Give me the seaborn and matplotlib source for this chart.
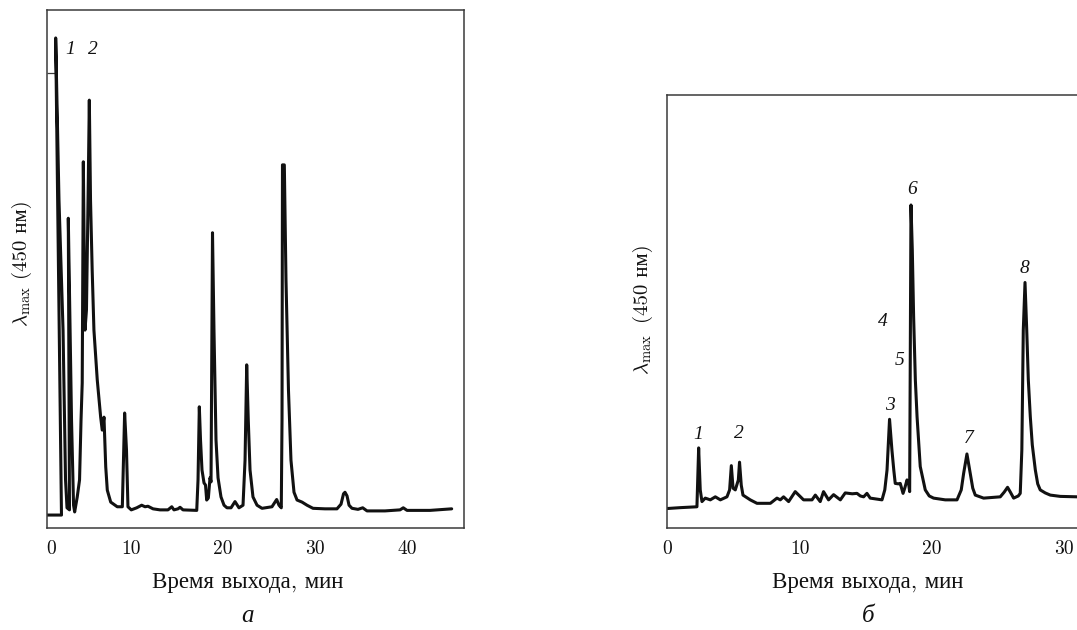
import matplotlib
matplotlib.use("Agg")
import matplotlib.pyplot as plt
import seaborn as sns
import pandas as pd
import numpy as np

# ---- data: panel a (retention time, min; detector signal, arb. units) ----
# the recorder pen leans, so a few early peak tops sit slightly left of their bases
time_a = [0.90, 2.47, 1.84, 2.20, 2.64, 2.91, 3.07, 3.34, 3.21, 3.56, 3.78, 3.90,
          4.18, 4.43, 4.59, 4.72, 4.84, 5.02, 5.18, 5.29, 5.38, 5.49, 5.62, 5.80,
          5.99, 6.35, 6.72, 6.89, 7.08, 7.27, 7.44, 7.81, 8.52, 9.07, 9.32, 9.52,
          9.68, 10.04, 10.63, 11.17, 11.53, 11.85, 12.40, 13.16,
          14.02, 14.43, 14.67, 15.11, 15.33, 15.65, 17.14, 17.28, 17.42, 17.55,
          17.71, 17.93, 18.09, 18.22, 18.40, 18.58, 18.69, 18.85, 19.01, 19.23,
          19.45, 19.77, 20.10, 20.42, 20.86, 21.29, 21.72, 22.16, 22.38, 22.56,
          22.73, 22.92, 23.24, 23.68, 24.22, 25.30, 25.81, 26.06, 26.31, 26.39,
          26.44, 26.64, 26.82, 27.09, 27.36, 27.69, 28.02, 28.56, 29.10, 29.75,
          31.05, 32.35, 32.79, 33.06, 33.22, 33.44, 33.66, 33.98, 34.63, 35.14,
          35.61, 37.56, 39.19, 39.54, 39.95, 42.44, 44.79]
signal_a = [2.5, 2.5, 94.6, 63.3, 38.2, 9.3, 3.9, 3.5, 59.8, 20.8, 4.4, 3.1,
            6.0, 9.3, 20.8, 28.0, 70.7, 38.2, 42.1, 55.6, 67.2, 82.6, 63.3, 49.8,
            38.2, 28.6, 21.4, 18.9, 21.4, 11.8, 7.3, 5.0, 4.1, 4.1, 22.2, 15.1,
            4.1, 3.5, 3.9, 4.4, 4.1, 4.2, 3.7, 3.5,
            3.5, 4.1, 3.5, 3.7, 4.0, 3.5, 3.4, 9.3, 23.4, 17.0,
            11.2, 8.7, 8.3, 5.4, 5.8, 9.7, 8.9, 57.0, 38.2, 17.0,
            9.7, 6.0, 4.4, 3.9, 3.9, 5.1, 3.9, 4.4, 13.1, 31.5,
            20.8, 11.2, 6.0, 4.4, 3.8, 4.1, 5.5, 4.4, 3.9, 20.8,
            70.1, 70.1, 47.9, 26.6, 13.1, 6.9, 5.4, 5.0, 4.4, 3.8,
            3.7, 3.7, 4.6, 6.6, 6.9, 6.2, 4.4, 3.8, 3.6, 3.9,
            3.3, 3.3, 3.5, 3.9, 3.4, 3.4, 3.7]

# ---- data: panel b ----
time_b = [0.00, 0.98, 2.24, 2.37, 2.49, 2.62, 2.87, 3.25, 3.63, 4.01, 4.51, 4.71,
          4.84, 4.97, 5.14, 5.37, 5.46, 5.59, 5.72, 6.27, 6.78, 7.79, 8.29, 8.54,
          8.79, 9.17, 9.67, 10.30, 10.94, 11.19, 11.56, 11.81, 12.19, 12.57, 13.08,
          13.45, 13.98, 14.34, 14.59, 14.84, 15.09, 15.34, 16.23, 16.44, 16.61,
          16.80, 16.98, 17.12, 17.23, 17.46, 17.61, 17.82, 17.95, 18.12, 18.24,
          18.32, 18.42, 18.52, 18.62, 18.75, 18.88, 19.12, 19.50, 19.80, 20.13,
          21.01, 21.90, 22.22, 22.40, 22.65, 22.90, 23.09, 23.28, 23.91, 25.17,
          25.47, 25.72, 25.93, 26.18, 26.53, 26.68, 26.80, 26.91, 27.04, 27.17,
          27.29, 27.44, 27.59, 27.82, 28.00, 28.19, 28.57, 28.95, 29.71, 31.00]
signal_b = [4.5, 4.7, 4.9, 18.5, 8.8, 6.1, 6.9, 6.5, 7.2, 6.5, 7.2, 8.8,
            14.4, 9.2, 8.8, 11.1, 15.2, 9.9, 7.6, 6.5, 5.7, 5.7, 6.9, 6.5,
            7.2, 6.1, 8.4, 6.5, 6.5, 7.6, 6.1, 8.4, 6.5, 7.7, 6.5,
            8.1, 7.9, 8.0, 7.4, 7.2, 8.0, 6.9, 6.5, 8.8, 13.4,
            25.1, 18.0, 13.4, 10.3, 10.2, 10.3, 8.0, 9.2, 11.1, 10.3,
            8.4, 74.6, 64.2, 48.8, 34.2, 25.7, 14.2, 8.8, 7.4, 6.9,
            6.5, 6.5, 8.8, 12.6, 17.1, 12.6, 9.2, 7.6, 6.9, 7.2,
            8.3, 9.4, 8.3, 6.9, 7.4, 8.0, 18.0, 45.7, 56.7, 45.7,
            34.2, 25.7, 19.2, 13.4, 10.2, 8.8, 8.1, 7.6, 7.3, 7.2]

# peak labels
peak_names_a = ["1", "2"]
peak_time_a = [3.39, 5.86]
peak_level_a = [92.3, 92.3]

peak_names_b = ["1", "2", "3", "4", "5", "6", "7", "8"]
peak_time_b = [2.37, 5.39, 16.80, 16.27, 17.54, 18.50, 22.77, 27.01]
peak_level_b = [21.5, 21.9, 28.4, 47.6, 38.6, 78.1, 20.7, 60.0]

x_ticks = [10, 20, 30, 40]
x_label = "Время выхода, мин"
y_label_sym = r"$\lambda_{\max}$"
y_label_rest = "(450 нм)"

# ---- style ----
sns.set_theme(style="white")
serif_list = ["cmr10", "Liberation Serif", "DejaVu Serif"]
plt.rcParams["font.family"] = serif_list
plt.rcParams["mathtext.fontset"] = "cm"
plt.rcParams["axes.formatter.use_mathtext"] = True

W, H = 1077, 630
fig = plt.figure(figsize=(W / 100, H / 100), dpi=100)
fig.patch.set_facecolor("white")

spine_col = "#3a3a3a"
line_col = "#111111"
txt_col = "#111111"


def style_axes(ax):
    for s in ax.spines.values():
        s.set_color(spine_col)
        s.set_linewidth(1.1)
    ax.tick_params(axis="x", direction="in", length=5.5, width=1.0,
                   color=spine_col, labelsize=14, pad=9, labelcolor=txt_col)
    ax.set_facecolor("white")
    ax.set_ylabel("")


def ylabel_pieces(xc, y_sym, y_rest):
    fig.text(xc / W, 1 - y_sym / H, y_label_sym, rotation=90, fontsize=15,
             ha="center", va="center", color=txt_col)
    fig.text(xc / W, 1 - y_rest / H, y_label_rest, rotation=90, fontsize=15,
             ha="center", va="center", color=txt_col, family=serif_list)


# panel a
ax1 = fig.add_axes([47 / W, 102 / H, (464.3 - 47) / W, 518 / H])
df_a = pd.DataFrame({"t": time_a, "s": signal_a})
sns.lineplot(data=df_a, x="t", y="s", ax=ax1, sort=False, estimator=None,
             color=line_col, linewidth=2.2)
ax1.set_xlim(0.9, 46.16)
ax1.set_ylim(0, 100)
style_axes(ax1)
ax1.set_xticks([1.33] + x_ticks)
ax1.set_xticklabels(["0"] + [str(v) for v in x_ticks])
ax1.xaxis.get_major_ticks()[0].tick1line.set_visible(False)
ax1.set_yticks([87.8])
ax1.set_yticklabels([""])
ax1.tick_params(axis="y", direction="in", length=6, width=0.9, color=spine_col, left=True)
ax1.set_xlabel(x_label, fontsize=16.5, color=txt_col)
ax1.xaxis.set_label_coords((248 - 47) / 417.3, -(583 - 528) / 518, transform=ax1.transAxes)
ax1.xaxis.label.set_va("center")
for n, t, v in zip(peak_names_a, peak_time_a, peak_level_a):
    ax1.text(t, v, n, fontsize=14, style="italic", family="Liberation Serif",
             ha="center", va="center", color=txt_col)
ylabel_pieces(22, 306, 240)

# panel b
ax2 = fig.add_axes([667.3 / W, 102 / H, 1 - 667.3 / W, 433 / H])
df_b = pd.DataFrame({"t": time_b, "s": signal_b})
sns.lineplot(data=df_b, x="t", y="s", ax=ax2, sort=False, estimator=None,
             color=line_col, linewidth=2.2)
ax2.set_xlim(0, 30.97)
ax2.set_ylim(0, 100)
style_axes(ax2)
ax2.spines["right"].set_visible(False)
ax2.set_xticks([0] + x_ticks[:3])
ax2.set_xticklabels(["0"] + [str(v) for v in x_ticks[:3]])
ax2.set_yticks([])
ax2.set_xlabel(x_label, fontsize=16.5, color=txt_col)
ax2.xaxis.set_label_coords((867.5 - 667.3) / 409.7, -(583 - 528) / 433, transform=ax2.transAxes)
ax2.xaxis.label.set_va("center")
for n, t, v in zip(peak_names_b, peak_time_b, peak_level_b):
    ax2.text(t, v, n, fontsize=14, style="italic", family="Liberation Serif",
             ha="center", va="center", color=txt_col)
ylabel_pieces(643, 354, 284)

# panel captions
fig.text(248 / W, 1 - 616 / H, "а", fontsize=18, style="italic",
         family="Liberation Serif", ha="center", va="center", color=txt_col)
fig.text(868 / W, 1 - 616 / H, "б", fontsize=18, style="italic",
         family="Liberation Serif", ha="center", va="center", color=txt_col)

fig.savefig("out.png", dpi=100, facecolor="white")
